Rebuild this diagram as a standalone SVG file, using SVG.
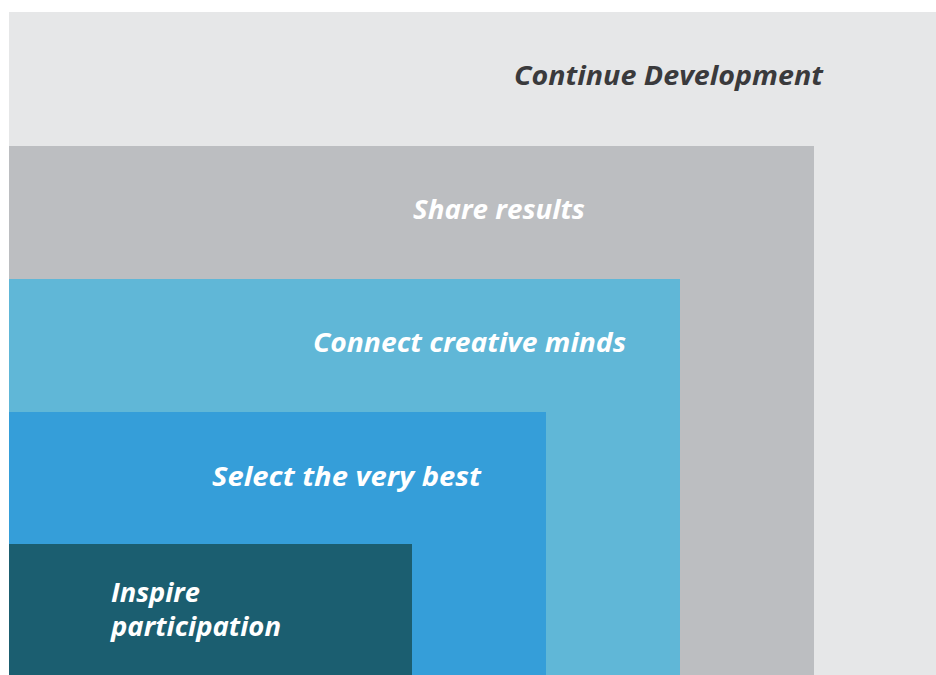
<svg xmlns="http://www.w3.org/2000/svg" width="936" height="675" viewBox="0 0 936 675">
<style>
.t{font-family:"Open Sans","Liberation Sans",sans-serif;font-style:italic;font-weight:700;font-size:27px;}
.w{fill:#FFFFFF;}
.d{fill:#3A3A3C;}
</style>
<rect x="0" y="0" width="936" height="675" fill="#FFFFFF"/>
<g id="continue-development">
<rect x="9" y="12" width="927" height="663" fill="#E6E7E8"/>
<text class="t d" x="514" y="85" textLength="309" lengthAdjust="spacingAndGlyphs">Continue Development</text>
</g>
<g id="share-results">
<rect x="9" y="146" width="805" height="529" fill="#BCBEC1"/>
<text class="t w" x="413" y="219" textLength="172" lengthAdjust="spacingAndGlyphs">Share results</text>
</g>
<g id="connect-creative-minds">
<rect x="9" y="279" width="671" height="396" fill="#60B7D7"/>
<text class="t w" x="313" y="352" textLength="313" lengthAdjust="spacingAndGlyphs">Connect creative minds</text>
</g>
<g id="select-the-very-best">
<rect x="9" y="412" width="537" height="263" fill="#359ED9"/>
<text class="t w" x="212" y="486" textLength="269" lengthAdjust="spacingAndGlyphs">Select the very best</text>
</g>
<g id="inspire-participation">
<rect x="9" y="544" width="403" height="131" fill="#1B5E70"/>
<text class="t w" x="111" y="602" textLength="89" lengthAdjust="spacingAndGlyphs">Inspire</text>
<text class="t w" x="111" y="636" textLength="170" lengthAdjust="spacingAndGlyphs">participation</text>
</g>
<g id="connectors"></g>
</svg>
